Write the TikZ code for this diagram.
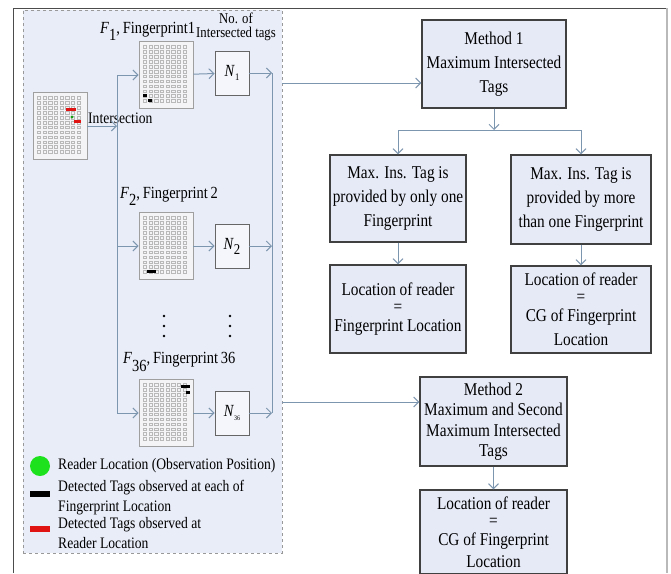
\documentclass[tikz,border=0pt]{standalone}
\usepackage{fontspec}
\setmainfont{Liberation Serif}[FakeStretch=0.85]
\usetikzlibrary{arrows.meta}
\definecolor{boxfill}{RGB}{230,234,247}
\definecolor{panelfill}{RGB}{233,237,248}
\definecolor{linec}{RGB}{125,150,175}
\definecolor{boxline}{RGB}{64,64,64}
\definecolor{gridfill}{RGB}{244,244,247}
\definecolor{tagred}{RGB}{225,20,20}
\definecolor{readergreen}{RGB}{30,225,30}
\newcommand\gridcells[1]{%
  \foreach \i in {0,...,7}{\foreach \j in {0,...,11}{%
    \draw[gray!55, line width=0.3pt] ([shift={(4.5+\i*5.7,4.5+\j*4.9)}]#1.north west) rectangle ++(3.2,2.6);}}}
\begin{document}
\begin{tikzpicture}[x=1pt,y=-1pt,
  box/.style={draw=boxline, line width=1.3pt, fill=boxfill, align=center, inner sep=0pt, font=\fontsize{18}{24}\selectfont},
  nbox/.style={draw=boxline!80, line width=0.9pt, fill=panelfill!50!white, minimum width=34pt, minimum height=44pt, inner sep=0pt, font=\fontsize{17}{18}\selectfont},
  gridimg/.style={draw=gray!75, line width=0.8pt, fill=gridfill, minimum width=54pt, minimum height=67pt, inner sep=0pt},
  arr/.style={draw=linec, line width=1pt, -{Straight Barb[length=5pt,width=10pt]}},
  ln/.style={draw=linec, line width=1pt},
  lbl/.style={inner sep=0pt, font=\fontsize{17}{18}\selectfont},
  leg/.style={inner sep=0pt, align=left, anchor=west, font=\fontsize{16}{20}\selectfont}]
\useasboundingbox (0,0) rectangle (671,573);
% outer frame
\draw[black!70, line width=1pt] (13,573) -- (13,8) -- (667,8);
\draw[gray!55, line width=1.6pt] (667,8) -- (667,573);
% dashed panel
\node[draw=gray!80, dashed, line width=0.8pt, fill=panelfill, minimum width=259pt, minimum height=543pt, inner sep=0pt] (panel) at (152.5,281.5) {};
% grids
\node[gridimg] (I) at (60,126) {};
\node[gridimg] (F1) at (166,75) {};
\node[gridimg] (F2) at (166,246) {};
\node[gridimg] (F36) at (166,413) {};
\gridcells{I}
\gridcells{F1}
\gridcells{F2}
\gridcells{F36}
% tag marks
\fill[tagred] (66,108) rectangle (76,111);
\fill[readergreen!70!black] (72,117) circle (1.6);
\fill[tagred] (74,120) rectangle (81,123);
\fill[black] (143,94) rectangle (147,97);
\fill[black] (148,99) rectangle (152,102);
\fill[black] (147,270) rectangle (156,273);
\fill[black] (181,385) rectangle (190,388);
\fill[black] (186,391) rectangle (190,394);
% N boxes
\node[nbox] (N1) at (232,73) {\textit{N}\raisebox{-4pt}{\fontsize{10}{10}\selectfont 1}};
\node[nbox] (N2) at (232,246) {\textit{N}\raisebox{-5pt}{\fontsize{15}{15}\selectfont 2}};
\node[nbox] (N36) at (232,413) {\textit{N}\raisebox{-4pt}{\fontsize{7}{7}\selectfont 36}};
% labels
\node[lbl, anchor=base west] (L1) at (100,33) {\textit{F}\raisebox{-7pt}{1},\,Fingerprint1};
\node[lbl, anchor=base west] (L2) at (120,198) {\textit{F}\raisebox{-7pt}{2},\,Fingerprint\,2};
\node[lbl, anchor=base west] (L36) at (123,363) {\textit{F}\raisebox{-8pt}{36},\,Fingerprint\,36};
\node[inner sep=0pt, align=center, font=\fontsize{15}{14}\selectfont] (NoI) at (236,27) {No. of\\Intersected tags};
\node[inner sep=0pt, anchor=west, font=\fontsize{16}{18}\selectfont] (Itxt) at (88,118) {Intersection};
% dots
\foreach \yy in {316,326,336} {\fill (164,\yy) circle (1.3); \fill (230,\yy) circle (1.3);}
% left connectors
\coordinate (tl1) at (117,75);
\coordinate (tl36) at (117,413);
\draw[ln] (tl1) -- (tl36);
\draw[arr] (I.east) -- (I.east -| tl1);
\draw[arr] (tl1) -- (F1.west);
\draw[arr] (F2.west -| tl1) -- (F2.west);
\draw[arr] (tl36) -- (F36.west);
\draw[arr] (F1) -- (N1);
\draw[arr] (F2) -- (N2);
\draw[arr] (F36) -- (N36);
\coordinate (tr1) at (272,73);
\coordinate (tr36) at (272,413);
\draw[ln] (tr1) -- (tr36);
\draw[arr] (N1.east) -- (N1.east -| tr1);
\draw[arr] (N2.east) -- (N2.east -| tr1);
\draw[arr] (N36.east) -- (N36.east -| tr1);
% legend
\node[circle, fill=readergreen, minimum size=20pt, inner sep=0pt] (rd) at (40,466) {};
\node[fill=black, minimum width=20pt, minimum height=6pt, inner sep=0pt] (bk) at (40,494) {};
\node[fill=tagred, minimum width=20pt, minimum height=6pt, inner sep=0pt] (rdk) at (40,529) {};
\node[leg] (lg1) at (58,466) {Reader Location (Observation Position)};
\node[leg] (lg2) at (58,498) {Detected Tags observed at each of\\Fingerprint Location};
\node[leg] (lg3) at (58,533) {Detected Tags observed at\\Reader Location};
% right boxes
\node[box, minimum width=144pt, minimum height=88pt] (M1) at (494,64) {Method 1\\Maximum Intersected\\Tags};
\node[box, minimum width=136pt, minimum height=87pt] (A) at (398,198.5) {Max. Ins. Tag is\\provided by only one\\Fingerprint};
\node[box, minimum width=140pt, minimum height=89pt] (B) at (581,199.5) {Max. Ins. Tag is\\provided by more\\than one Fingerprint};
\node[box, minimum width=136pt, minimum height=88pt] (C) at (398,309) {Location of reader\\[-7pt]=\\[-5pt]Fingerprint Location};
\node[box, minimum width=140pt, minimum height=87pt] (D) at (581,309.5) {Location of reader\\[-7pt]=\\[-5pt]CG of Fingerprint\\Location};
\node[box, minimum width=147pt, minimum height=89pt, font=\fontsize{18}{20.5}\selectfont] (M2) at (493.5,421.5) {Method 2\\Maximum and Second\\Maximum Intersected\\Tags};
\node[box, minimum width=147pt, minimum height=84pt] (E) at (493.5,532) {Location of reader\\[-7pt]=\\[-5pt]CG of Fingerprint\\[-2pt]Location};
% right connectors
\coordinate (s1) at (494,130);
\draw[arr] (M1.south) -- (s1);
\draw[arr] (s1) -| (A.north);
\draw[arr] (s1) -| (B.north);
\draw[arr] (A) -- (C);
\draw[arr] (B) -- (D);
\draw[arr] (M2) -- (E);
\coordinate (o1) at (282,83);
\coordinate (o2) at (282,402);
\draw[arr] (o1) -- (o1 -| M1.west);
\draw[arr] (o2) -- (o2 -| M2.west);
\end{tikzpicture}
\end{document}
